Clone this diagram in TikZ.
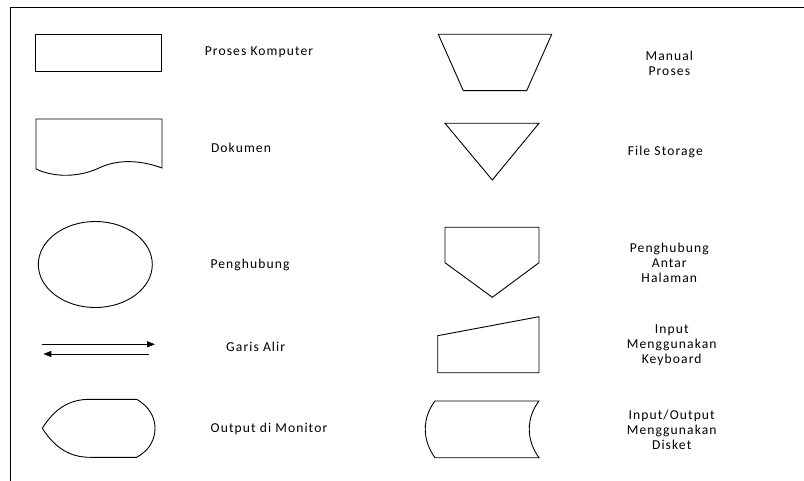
\documentclass[tikz,border=0pt]{standalone}
\usepackage{fontspec}
\setmainfont{Carlito}[LetterSpace=8]
\usetikzlibrary{arrows.meta}
\tikzset{
  shp/.style={draw=black, line width=0.9pt, line join=miter},
  lbl/.style={font=\fontsize{13.6}{15}\selectfont, align=center, inner sep=0pt},
  flow/.style={line width=0.9pt, -{Triangle[length=8pt,width=6pt]}}
}
\begin{document}
\begin{tikzpicture}[x=1pt,y=-1pt]
\useasboundingbox (0,0) rectangle (804,481);
% frame
\draw[line width=1pt] (10.5,481) -- (10.5,8) -- (804,8);
% left column
\draw[shp] (35.7,34.3) rectangle (161.7,71.7);
\node[lbl] (t1) at (259,52.3) {Proses Komputer};

\draw[shp] (36,169) -- (36,119) -- (162,119) -- (162,168)
  .. controls (140,160) and (118,159) .. (99,168)
  .. controls (80,177) and (55,178) .. (36,169);
\node[lbl] (t2) at (241,147.7) {Dokumen};

\draw[shp] (95.3,264.5) ellipse [x radius=57, y radius=43];
\node[lbl] (t3) at (250,265) {Penghubung};

\coordinate (a1s) at (41.7,344.3);
\coordinate (a1e) at (155,344.3);
\coordinate (a2s) at (149,354);
\coordinate (a2e) at (43.3,354);
\draw[flow] (a1s) -- (a1e);
\draw[flow] (a2s) -- (a2e);
\node[lbl] (t4) at (255.7,346.7) {Garis Alir};

\draw[shp] (42.3,428.3) .. controls (55,408) and (70,399.3) .. (90,399.3)
  -- (136.7,399.3) .. controls (150,407) and (155,418) .. (155,428.3)
  .. controls (155,439) and (150,450) .. (136.7,457.3)
  -- (90,457.3) .. controls (70,457.3) and (55,448) .. cycle;
\node[lbl] (t5) at (269,429) {Output di Monitor};

% right column
\draw[shp] (438.3,34.3) -- (551.7,34.3) -- (526.7,90.7) -- (463.3,90.7) -- cycle;
\node[lbl] (t6) at (669.3,63) {Manual\\Proses};

\draw[shp] (445,123.3) -- (539,123.3) -- (492.3,180) -- cycle;
\node[lbl] (t7) at (665.3,152.3) {File Storage};

\draw[shp] (445,227.3) -- (539,227.3) -- (539,262.7) -- (492.3,297.3) -- (445,262.7) -- cycle;
\node[lbl] (t8) at (669.3,262.5) {Penghubung\\Antar\\Halaman};

\draw[shp] (437.7,335.7) -- (539,316.7) -- (539,372.7) -- (437.7,372.7) -- cycle;
\node[lbl] (t9) at (671.7,345) {Input\\Menggunakan\\Keyboard};

\draw[shp] (435,401) -- (539,401) .. controls (526,418) and (526,440) .. (539,457.7)
  -- (435,457.7) .. controls (422,440) and (422,418) .. cycle;
\node[lbl] (t10) at (671.7,429.5) {Input/Output\\Menggunakan\\Disket};
\end{tikzpicture}
\end{document}
